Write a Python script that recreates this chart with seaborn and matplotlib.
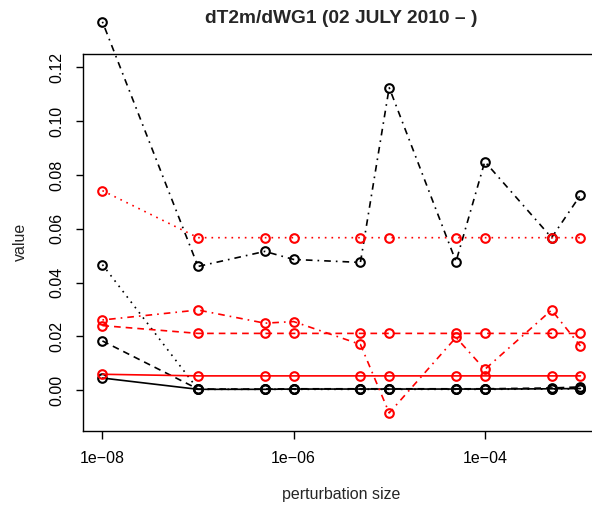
import numpy as np
import pandas as pd
import matplotlib
matplotlib.use("Agg")
import matplotlib.pyplot as plt
import seaborn as sns

# perturbation sizes
pert = [1e-8, 1e-7, 5e-7, 1e-6, 5e-6, 1e-5, 5e-5, 1e-4, 5e-4, 1e-3]

# black series
black_solid = [0.0045, 0.0003, 0.0003, 0.0004, 0.0004, 0.0004, 0.0004, 0.0004, 0.0005, 0.0006]
black_dashed = [0.0183, 0.0004, 0.0004, 0.0005, 0.0005, 0.0005, 0.0005, 0.0005, 0.0008, 0.0012]
black_dotted = [0.0467, 0.0003, 0.0003, 0.0003, 0.0003, 0.0003, 0.0003, 0.0003, 0.0004, 0.0005]
black_dotdash = [0.1370, 0.0460, 0.0516, 0.0486, 0.0475, 0.1125, 0.0478, 0.0850, 0.0567, 0.0725]

# red series
red_solid = [0.0059, 0.0053, 0.0053, 0.0053, 0.0053, 0.0053, 0.0053, 0.0053, 0.0053, 0.0053]
red_dashed = [0.0240, 0.0211, 0.0211, 0.0211, 0.0211, 0.0211, 0.0211, 0.0211, 0.0211, 0.0211]
red_dotted = [0.0742, 0.0567, 0.0567, 0.0567, 0.0567, 0.0567, 0.0567, 0.0567, 0.0567, 0.0567]
red_dotdash = [0.0261, 0.0298, 0.0249, 0.0255, 0.0170, -0.0085, 0.0196, 0.0077, 0.0298, 0.0164]

title = "dT2m/dWG1 (02 JULY 2010 \u2013 )"
xlabel = "perturbation size"
ylabel = "value"
xticks = [1e-8, 1e-6, 1e-4]
xticklabels = ["1e\u221208", "1e\u221206", "1e\u221204"]
yticks = [0.00, 0.02, 0.04, 0.06, 0.08, 0.10, 0.12]

sns.set_theme(style="ticks")
plt.rcParams["font.family"] = ["Liberation Sans", "DejaVu Sans"]
plt.rcParams["axes.linewidth"] = 1.0

W, H = 592, 508
fig = plt.figure(figsize=(W / 100, H / 100), dpi=100)
left_px, right_px, top_px, bottom_px = 83.3, 599.5, 53.5, 431.0
ax = fig.add_axes([left_px / W, 1 - bottom_px / H,
                   (right_px - left_px) / W, (bottom_px - top_px) / H])

styles = {
    "solid": "-",
    "dashed": (0, (4, 3)),
    "dotted": (0, (1, 3)),
    "dotdash": (0, (1, 3, 4, 3)),
}

series = [
    ("black", "solid", black_solid),
    ("black", "dashed", black_dashed),
    ("black", "dotted", black_dotted),
    ("black", "dotdash", black_dotdash),
    ("red", "solid", red_solid),
    ("red", "dashed", red_dashed),
    ("red", "dotted", red_dotted),
    ("red", "dotdash", red_dotdash),
]

for color, ls, vals in series:
    df = pd.DataFrame({"x": pert, "y": vals})
    sns.lineplot(data=df, x="x", y="y", ax=ax, color=color, linestyle=styles[ls],
                 linewidth=1.2, marker="o", markersize=6.2, markerfacecolor="none",
                 markeredgecolor=color, markeredgewidth=1.5, clip_on=False,
                 sort=False, estimator=None, errorbar=None)

ax.set_xscale("log")
ax.set_xlim(10 ** -8.2, 10 ** -2.8)
ax.set_ylim(-0.0152, 0.1252)
ax.set_xticks(xticks)
ax.set_xticklabels(xticklabels)
ax.xaxis.set_minor_locator(matplotlib.ticker.NullLocator())
ax.set_yticks(yticks)
ax.set_yticklabels([f"{v:.2f}" for v in yticks], rotation=90, va="center")

ax.tick_params(axis="both", which="major", direction="out", length=7.5 * 0.72,
               width=1.0, labelsize=11.5, colors="black")
ax.tick_params(axis="x", pad=9)
ax.tick_params(axis="y", pad=8.5)

for side in ["left", "right", "top", "bottom"]:
    ax.spines[side].set_visible(True)
    ax.spines[side].set_color("black")
    ax.spines[side].set_linewidth(1.0)

ax.set_xlabel(xlabel, fontsize=11.5)
ax.set_ylabel(ylabel, fontsize=11.5)
ax.xaxis.label.set_va("center")
ax.yaxis.label.set_va("center")
ax.xaxis.set_label_coords(0.5, -(495 - bottom_px) / (bottom_px - top_px))
ax.yaxis.set_label_coords(-(left_px - 20) / (right_px - left_px), 0.5)

ax.set_title(title, fontsize=13.8, fontweight="bold", pad=22)
ax.grid(False)

fig.savefig("out.png", dpi=100)
